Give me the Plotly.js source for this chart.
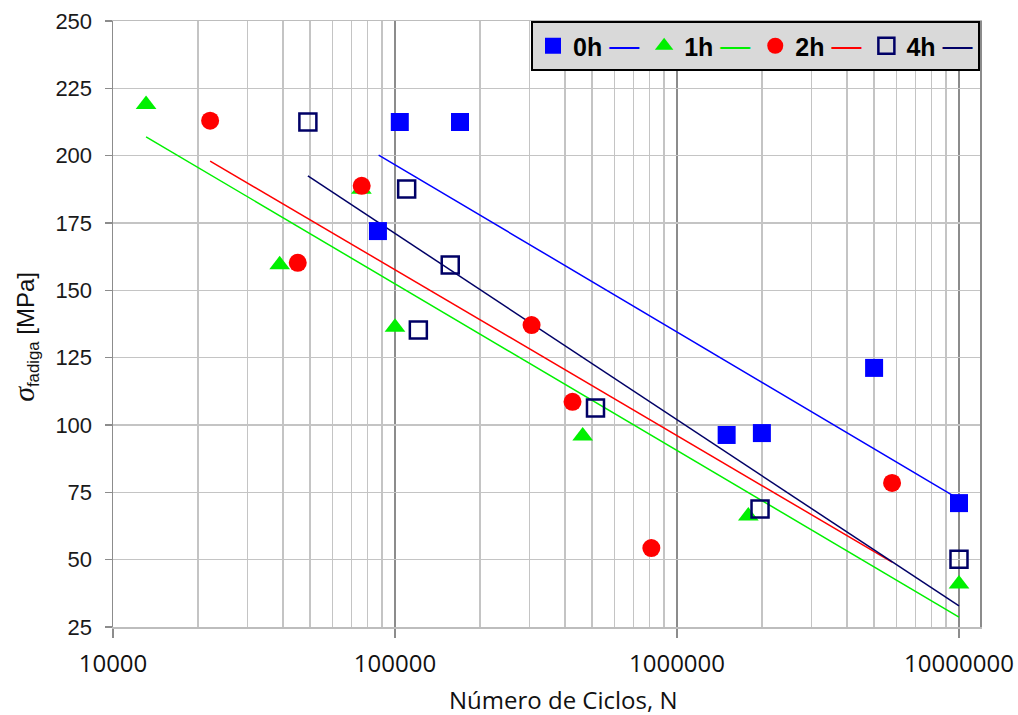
<!DOCTYPE html>
<html>
<head>
<meta charset="utf-8">
<script src="https://cdn.plot.ly/plotly-3.0.1.min.js"></script>
<style>html,body{margin:0;padding:0;background:#fff;}#chart{width:1018px;height:715px;}</style>
</head>
<body>
<div id="chart"></div>
<script>
// ---- data ----
const seriesNames = ['0h', '1h', '2h', '4h'];

const cycles0h = [104000, 170000, 87000, 1500000, 2000000, 5000000, 10000000];
const stress0h = [212.5, 212.5, 172, 96.3, 97, 121.2, 71];

const cycles1h = [13100, 39000, 76000, 100000, 463000, 1790000, 10000000];
const stress1h = [219, 159.5, 187.5, 136.3, 95.9, 66.2, 41];

const cycles2h = [22100, 45200, 76200, 305000, 426000, 811000, 5790000];
const stress2h = [213, 160.2, 188.8, 137.1, 108.6, 54.3, 78.5];

const cycles4h = [49100, 110000, 121000, 157000, 514000, 1970000, 10000000];
const stress4h = [212.5, 187.6, 135.3, 159.4, 106.3, 68.8, 50.2];

// trend lines (end points)
const trend0hN = [87500, 10000000];  const trend0hS = [200.2, 72.5];
const trend1hN = [13100, 10000000];  const trend1hS = [207, 28.7];
const trend2hN = [22100, 5790000];   const trend2hS = [198, 49.1];
const trend4hN = [49100, 10000000];  const trend4hS = [192.5, 32.8];

const xTickVals = [10000, 100000, 1000000, 10000000];
const xTickText = ['10000', '100000', '1000000', '10000000'];
const yTickVals = [25, 50, 75, 100, 125, 150, 175, 200, 225, 250];

const xTitle = 'Número de Ciclos, N';
const yTitle = '<span style="font-family:\'Liberation Serif\';font-size:30px"><i>σ</i></span><sub>fadiga</sub> [MPa]';

// ---- styles ----
const C0 = '#0000ff', C1 = '#00f000', C2 = '#ff0000', C4 = '#000066';

function legendLabel(name, color) {
  return name + ' <span style="color:' + color + ';font-weight:normal;font-size:30px">—</span>';
}
function lineTrace(x, y, color) {
  return {x: x, y: y, type: 'scatter', mode: 'lines', showlegend: false,
          line: {color: color, width: 1.5}, hoverinfo: 'skip'};
}
function markTrace(x, y, name, symbol, color, size, lw, rank) {
  return {x: x, y: y, type: 'scatter', mode: 'markers', name: legendLabel(name, color),
          legendrank: rank,
          marker: {symbol: symbol, color: color, size: size,
                   line: {color: color, width: lw}}};
}

const data = [
  lineTrace(trend0hN, trend0hS, C0),
  lineTrace(trend1hN, trend1hS, C1),
  lineTrace(trend2hN, trend2hS, C2),
  lineTrace(trend4hN, trend4hS, C4),
  markTrace(cycles1h, stress1h, seriesNames[1], 'triangle-up', C1, 18, 0, 2),
  markTrace(cycles0h, stress0h, seriesNames[0], 'square', C0, 18, 0, 1),
  markTrace(cycles2h, stress2h, seriesNames[2], 'circle', C2, 18, 0, 3),
  markTrace(cycles4h, stress4h, seriesNames[3], 'square-open', C4, 17, 2.5, 4)
];

const layout = {
  width: 1018, height: 715,
  margin: {l: 113, r: 38, t: 21, b: 88},
  paper_bgcolor: '#ffffff', plot_bgcolor: '#ffffff',
  showlegend: true,
  legend: {
    orientation: 'h', x: 1, xanchor: 'right', y: 1, yanchor: 'top',
    bgcolor: '#d9d9d9', bordercolor: '#000000', borderwidth: 2,
    font: {family: 'Liberation Sans', size: 25, color: '#000', weight: 'bold'},
    traceorder: 'normal'
  },
  xaxis: {
    type: 'log', range: [4, 7.0745],
    tickvals: xTickVals, ticktext: xTickText,
    ticks: 'outside', ticklen: 9, tickcolor: '#8c8c8c', tickwidth: 1.5,
    showgrid: true, gridcolor: '#8c8c8c', gridwidth: 1.5,
    minor: {dtick: 'D1', showgrid: true, gridcolor: '#c4c4c4', gridwidth: 1.5, ticks: ''},
    showline: true, linecolor: '#bdbdbd', linewidth: 1.5, mirror: true,
    zeroline: false,
    tickfont: {family: 'Open Sans', size: 24, color: '#111'},
    ticklabelstandoff: 6
  },
  yaxis: {
    range: [25, 250], tickvals: yTickVals,
    ticks: 'outside', ticklen: 7, tickcolor: '#8c8c8c', tickwidth: 1.5,
    showgrid: true, gridcolor: '#c4c4c4', gridwidth: 1.5,
    showline: true, linecolor: '#8c8c8c', linewidth: 1.5, mirror: true,
    zeroline: false,
    tickfont: {family: 'Liberation Sans', size: 22, color: '#1a1a1a'},
    ticklabelstandoff: 8
  },
  annotations: [
    {text: xTitle, xref: 'paper', yref: 'paper', x: 0.519, y: -0.119,
     xanchor: 'center', yanchor: 'middle', showarrow: false,
     font: {family: 'Open Sans', size: 24, color: '#111'}},
    {text: yTitle, xref: 'paper', yref: 'paper', x: -0.1017, y: 0.4785,
     xanchor: 'center', yanchor: 'middle', textangle: -90, showarrow: false,
     font: {family: 'Liberation Sans', size: 24, color: '#111'}}
  ]
};

Plotly.newPlot('chart', data, layout, {displayModeBar: false, staticPlot: true});
</script>
</body>
</html>
